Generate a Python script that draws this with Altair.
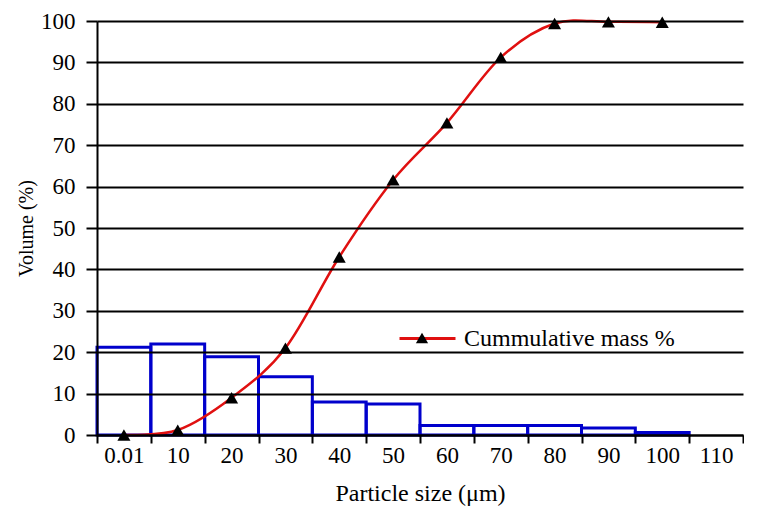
import altair as alt
import pandas as pd

# ---- data ----
sizes = ["0.01", "10", "20", "30", "40", "50", "60", "70", "80", "90", "100", "110"]
bar_sizes = ["0.01", "10", "20", "30", "40", "50", "60", "70", "80", "90", "100"]
volume = [21.2, 22.0, 18.9, 14.1, 8.0, 7.5, 2.3, 2.3, 2.3, 1.7, 0.6]
cum_sizes = ["0.01", "10", "20", "30", "40", "50", "60", "70", "80", "90", "100"]
cumulative = [0.0, 1.2, 9.0, 21.0, 43.0, 61.6, 75.4, 91.2, 99.4, 99.8, 99.7]
series_name = "Cummulative mass %"
y_ticks = [0, 10, 20, 30, 40, 50, 60, 70, 80, 90, 100]

bars_df = pd.DataFrame({"size": bar_sizes, "volume": volume})
cum_df = pd.DataFrame({"size": cum_sizes, "cum": cumulative, "series": series_name, "marker": " "})

FONT = "Liberation Serif"
RED = "#e01010"
BLUE = "#0000cc"

x_scale = alt.Scale(domain=sizes, paddingInner=0, paddingOuter=0)
y_scale = alt.Scale(domain=[0, 100], nice=False)

x_axis = alt.Axis(
    tickBand="extent", labelAngle=0, grid=False, zindex=1,
    labelFont=FONT, labelFontSize=23, labelColor="black", labelPadding=1,
    titleFont=FONT, titleFontSize=24, titleFontWeight="normal", titleColor="black",
    titlePadding=14, domainColor="black", domainWidth=2,
    tickColor="black", tickWidth=2, tickSize=8,
)
y_axis = alt.Axis(
    values=y_ticks, grid=True, gridColor="black", gridWidth=2, gridOpacity=1, zindex=1,
    labelFont=FONT, labelFontSize=23, labelColor="black", labelPadding=11,
    titleFont=FONT, titleFontSize=20, titleFontWeight="normal", titleColor="black",
    titlePadding=4, domainColor="black", domainWidth=2,
    tickColor="black", tickWidth=2, tickSize=11,
)

x_title = "Particle size (μm)"
LEG_X = 301
LEG_Y = 288

bars = alt.Chart(bars_df).mark_bar(fillOpacity=0, stroke=BLUE, strokeWidth=3).encode(
    x=alt.X("size:N", scale=x_scale, axis=x_axis, title=x_title),
    y=alt.Y("volume:Q", scale=y_scale, axis=y_axis, title="Volume (%)"),
)

line = alt.Chart(cum_df).mark_line(strokeWidth=2.5, interpolate="cardinal").encode(
    x=alt.X("size:N", scale=x_scale, title=x_title),
    y=alt.Y("cum:Q", scale=y_scale, title="Volume (%)"),
    color=alt.Color(
        "series:N",
        scale=alt.Scale(domain=[series_name], range=[RED]),
        legend=alt.Legend(
            title=None, orient="none", legendX=LEG_X, legendY=LEG_Y, padding=0,
            symbolType="stroke", symbolSize=3136, symbolStrokeWidth=3,
            labelLimit=400, labelFont=FONT, labelFontSize=24, labelColor="black",
            labelOffset=7,
        ),
    ),
)

points = alt.Chart(cum_df).mark_point(shape="triangle-up", filled=True, size=170, opacity=1,
                                      color="black").encode(
    x=alt.X("size:N", scale=x_scale, title=x_title),
    y=alt.Y("cum:Q", scale=y_scale, title="Volume (%)"),
    shape=alt.Shape(
        "marker:N",
        scale=alt.Scale(domain=[" "], range=["triangle-up"]),
        legend=alt.Legend(
            title=None, orient="none", legendX=LEG_X + 12, legendY=LEG_Y + 17, padding=0,
            symbolSize=150, symbolFillColor="black", symbolStrokeColor="black",
            symbolStrokeWidth=0, symbolOpacity=1,
            labelFont=FONT, labelFontSize=24, labelColor="black", labelOffset=0,
        ),
    ),
)

chart = (
    alt.layer(bars, line, points)
    .resolve_legend(color="independent", shape="independent")
    .properties(width=646, height=414, padding={"left": 8, "top": 2, "right": 0, "bottom": 4},
                background="white")
    .configure_view(strokeOpacity=0)
)

chart.save("out.html", embed_options={"renderer": "svg", "actions": False})
